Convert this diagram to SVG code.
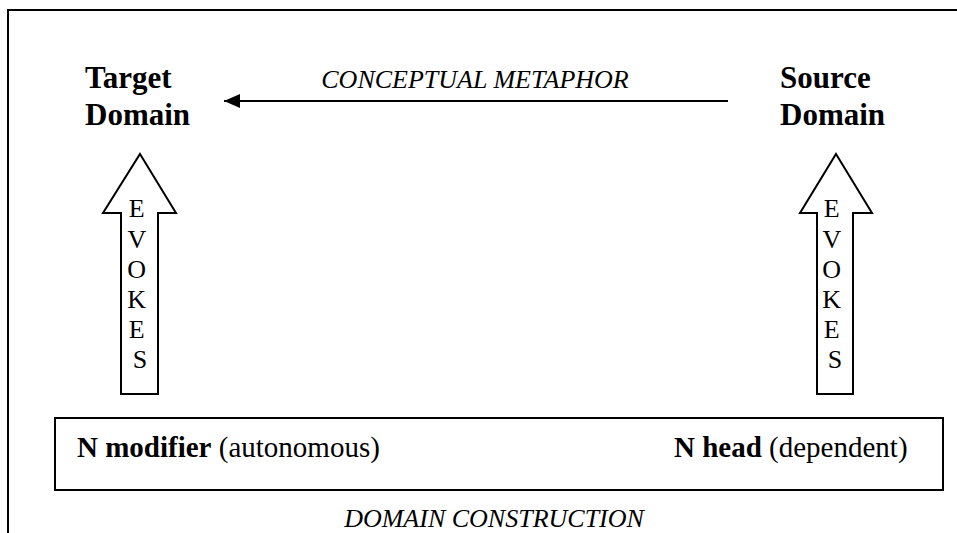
<svg xmlns="http://www.w3.org/2000/svg" width="957" height="533" viewBox="0 0 957 533">
  <style>
    .line { fill: none; stroke: #000; stroke-width: 2; }
    .evoke { fill: #fff; stroke: #000; stroke-width: 2; stroke-linejoin: miter; }
    .domain { font-family: "Liberation Serif", "Times New Roman", serif; font-weight: bold; font-size: 31px; fill: #000; }
    .label { font-family: "Liberation Serif", "Times New Roman", serif; font-style: italic; font-size: 26px; fill: #000; }
    .letters { font-family: "Liberation Serif", "Times New Roman", serif; font-size: 26px; fill: #000; text-anchor: middle; }
    .noun { font-family: "Liberation Serif", "Times New Roman", serif; font-size: 29px; fill: #000; }
    .noun tspan.b { font-weight: bold; }
  </style>
  <defs>
    <marker id="head" markerWidth="16" markerHeight="14" refX="16" refY="7" orient="auto" markerUnits="userSpaceOnUse" viewBox="0 0 16 14">
      <path d="M0,0 L16,7 L0,14 Z" fill="#000"/>
    </marker>
  </defs>

  <rect width="957" height="533" fill="#fff"/>

  <!-- outer frame: top and left edges -->
  <path class="line" d="M8,533 L8,10 L957,10"/>

  <g id="target-domain">
    <text class="domain" x="85" y="88">Target</text>
    <text class="domain" x="85" y="125">Domain</text>
  </g>

  <g id="source-domain">
    <text class="domain" x="780" y="88">Source</text>
    <text class="domain" x="780" y="125">Domain</text>
  </g>

  <g id="construction">
    <rect class="line" x="55" y="418" width="888" height="72"/>
    <text class="noun" x="77" y="457"><tspan class="b">N modifier</tspan> (autonomous)</text>
    <text class="noun" x="674" y="457"><tspan class="b">N head</tspan> (dependent)</text>
    <text class="label" x="494" y="527" text-anchor="middle">DOMAIN CONSTRUCTION</text>
  </g>

  <g id="connectors">
    <!-- conceptual metaphor: source to target -->
    <line class="line" x1="728" y1="101" x2="224" y2="101" marker-end="url(#head)"/>
    <text class="label" x="475" y="88" text-anchor="middle">CONCEPTUAL METAPHOR</text>

    <!-- evokes: modifier to target domain -->
    <path class="evoke" d="M140,154 L176,213 L158,213 L158,394 L121,394 L121,213 L103,213 Z"/>
    <text class="letters">
      <tspan x="140" y="217">E</tspan>
      <tspan x="140" y="248">V</tspan>
      <tspan x="140" y="278">O</tspan>
      <tspan x="140" y="308">K</tspan>
      <tspan x="140" y="338">E</tspan>
      <tspan x="140" y="368">S</tspan>
    </text>

    <!-- evokes: head to source domain -->
    <path class="evoke" d="M836,154 L872,213 L853,213 L853,394 L817,394 L817,213 L800,213 Z"/>
    <text class="letters">
      <tspan x="835" y="217">E</tspan>
      <tspan x="835" y="248">V</tspan>
      <tspan x="835" y="278">O</tspan>
      <tspan x="835" y="308">K</tspan>
      <tspan x="835" y="338">E</tspan>
      <tspan x="835" y="368">S</tspan>
    </text>
  </g>
</svg>
